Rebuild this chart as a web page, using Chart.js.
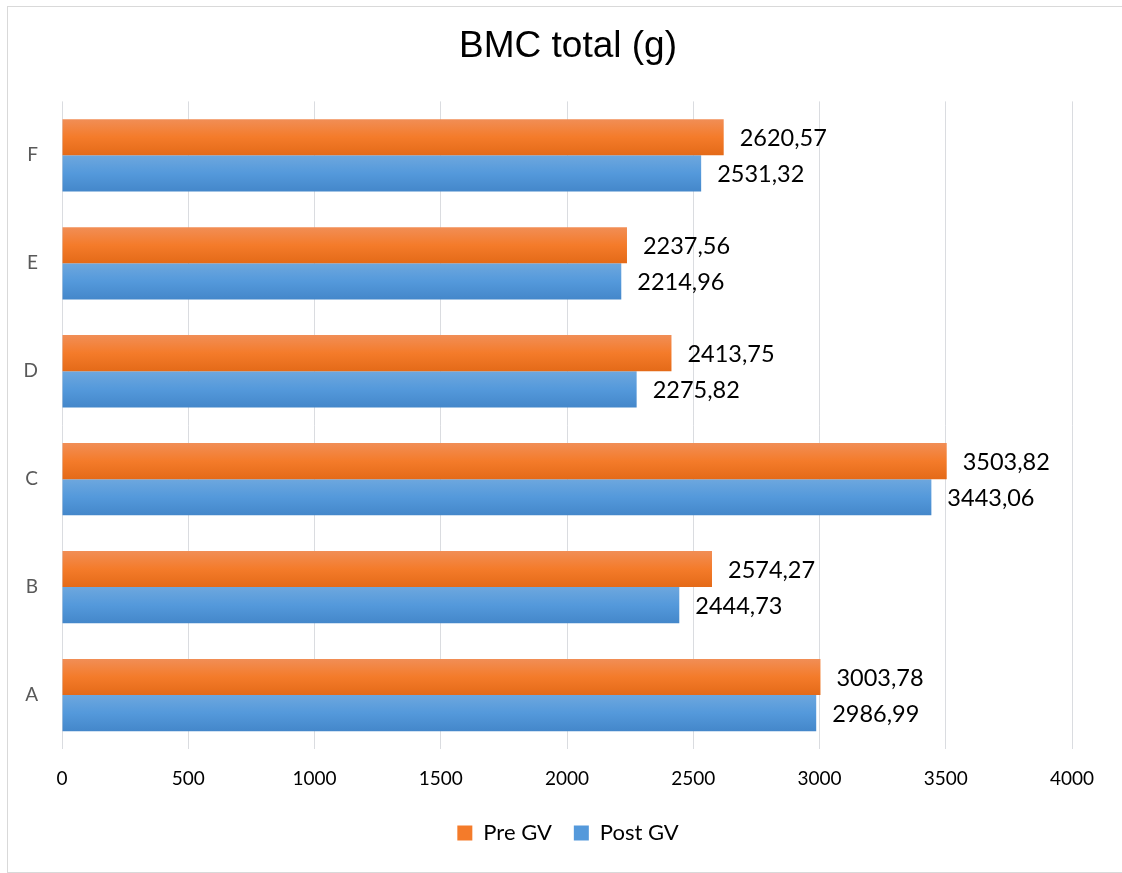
<!DOCTYPE html>
<html>
<head>
<meta charset="utf-8">
<title>BMC total (g)</title>
<script src="https://cdn.jsdelivr.net/npm/chart.js@4/dist/chart.umd.min.js"></script>
<style>
    body { margin: 0; background: #fff; }
    #wrap { width: 1122px; height: 873px; }
</style>
</head>
<body>
<div id="wrap"><canvas id="bmcChart" width="1122" height="873"></canvas></div>
<script>
// Daten
const categories = ['A', 'B', 'C', 'D', 'E', 'F'];
const preGV = [3003.78, 2574.27, 3503.82, 2413.75, 2237.56, 2620.57];
const postGV = [2986.99, 2444.73, 3443.06, 2275.82, 2214.96, 2531.32];
const xTicks = [0, 500, 1000, 1500, 2000, 2500, 3000, 3500, 4000];

const orangeStops = ['#F18E56', '#F47B2A', '#E46A18'];
const blueStops = ['#6DA7DE', '#5499DB', '#4487CA'];

// Verlauf pro Balken (oben hell, unten dunkel)
const gradientBars = {
    id: 'gradientBars',
    beforeDatasetsDraw(chart) {
        const ctx = chart.ctx;
        chart.data.datasets.forEach((ds, i) => {
            const stops = i === 0 ? orangeStops : blueStops;
            chart.getDatasetMeta(i).data.forEach(el => {
                const { y, height } = el.getProps(['y', 'height'], true);
                const g = ctx.createLinearGradient(0, y - height / 2, 0, y + height / 2);
                g.addColorStop(0, stops[0]);
                g.addColorStop(0.5, stops[1]);
                g.addColorStop(1, stops[2]);
                el.options.backgroundColor = g;
            });
        });
    }
};

// Werte neben den Balken
const valueLabels = {
    id: 'valueLabels',
    afterDatasetsDraw(chart) {
        const ctx = chart.ctx;
        ctx.save();
        ctx.font = '23.5px Lato';
        ctx.fillStyle = '#000';
        ctx.textAlign = 'left';
        ctx.textBaseline = 'middle';
        chart.data.datasets.forEach((ds, i) => {
            chart.getDatasetMeta(i).data.forEach((el, j) => {
                const txt = ds.data[j].toFixed(2).replace('.', ',');
                ctx.fillText(txt, el.x + 16, el.y + 1);
            });
        });
        ctx.restore();
    }
};

// Rahmen um das Diagramm
const frame = {
    id: 'frame',
    beforeDraw(chart) {
        const ctx = chart.ctx;
        ctx.save();
        ctx.strokeStyle = '#D9D9D9';
        ctx.lineWidth = 1;
        ctx.strokeRect(7.5, 6.5, 1130, 866);
        ctx.restore();
    }
};

new Chart(document.getElementById('bmcChart'), {
    type: 'bar',
    data: {
        labels: categories,
        datasets: [
            { label: 'Pre GV', data: preGV, backgroundColor: () => orangeStops[1] },
            { label: 'Post GV', data: postGV, backgroundColor: () => blueStops[1] }
        ]
    },
    options: {
        indexAxis: 'y',
        responsive: false,
        animation: false,
        categoryPercentage: 0.67,
        barPercentage: 1.0,
        layout: { padding: { left: 14, right: 0, top: 0, bottom: 19 } },
        scales: {
            x: {
                min: 0,
                max: 4000,
                afterBuildTicks: s => { s.ticks = xTicks.map(v => ({ value: v })); },
                afterFit: s => { s.height = 51; s.paddingRight = 50; },
                grid: { color: '#DADCE0', lineWidth: 1, drawTicks: false },
                border: { display: false },
                ticks: {
                    color: '#000',
                    font: { family: 'Lato', size: 19 },
                    padding: 18,
                    callback: v => String(v)
                }
            },
            y: {
                reverse: true,
                grid: { display: false, drawTicks: false },
                border: { display: false },
                afterFit: s => { s.width = 48; },
                ticks: { color: '#595959', font: { family: 'Lato', size: 19 }, padding: 24 }
            }
        },
        plugins: {
            title: {
                display: true,
                text: 'BMC total (g)',
                color: '#000',
                font: { family: 'Liberation Sans', size: 37, weight: 'normal' },
                padding: { top: 25, bottom: 32 }
            },
            legend: {
                position: 'bottom',
                labels: {
                    color: '#000',
                    font: { family: 'Lato', size: 22 },
                    boxWidth: 15,
                    boxHeight: 15,
                    padding: 22
                }
            },
            tooltip: { enabled: false }
        }
    },
    plugins: [frame, gradientBars, valueLabels]
});
</script>
</body>
</html>
